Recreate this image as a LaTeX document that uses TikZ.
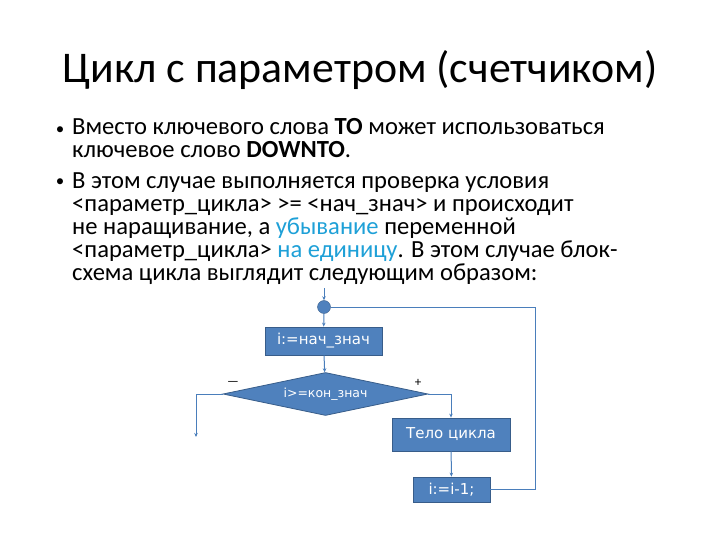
\documentclass[tikz,border=0pt]{standalone}
\usepackage{fontspec}
\setmainfont{Carlito}
\newfontfamily\boxfont{DejaVu Sans}
\usetikzlibrary{arrows.meta,positioning,shapes.geometric}
\definecolor{boxfill}{RGB}{79,129,189}
\definecolor{boxline}{RGB}{56,93,138}
\definecolor{flowline}{RGB}{74,126,187}
\definecolor{accent}{RGB}{30,160,215}
\tikzset{
  slidetitle/.style = {
    font=\fontsize{43.8}{50}\selectfont,
    anchor=center
  },
  slidetext/.style = {
    font=\fontsize{24.6}{23}\selectfont,
    anchor=north west,
    align=left,
    inner sep=0pt
  },
  slidedot/.style = {
    font=\fontsize{17}{18}\selectfont,
    inner sep=0pt
  },
  flowblock/.style = {
    rectangle,
    draw=boxline,
    fill=boxfill,
    line width=0.8pt,
    text=white,
    font=\boxfont\fontsize{15}{16}\selectfont,
    inner sep=0pt
  },
  flowcheck/.style = {
    diamond,
    aspect=4.77,
    draw=boxline,
    fill=boxfill,
    line width=0.8pt,
    text=white,
    font=\boxfont\fontsize{12.5}{14}\selectfont,
    inner sep=0pt,
    minimum width=205,
    minimum height=43
  },
  flowjoin/.style = {
    circle,
    draw=boxline,
    fill=boxfill,
    minimum size=13,
    inner sep=0pt
  },
  flowarrow/.style = {
    -{Stealth[length=4pt,width=3.5pt]},
    draw=flowline,
    line width=1pt
  },
  flowpath/.style = {
    draw=flowline,
    line width=1pt
  }
}

\begin{document}
\begin{tikzpicture}[x=1pt,y=-1pt]
    \useasboundingbox (0,0) rectangle (720,540);
    \node[slidetitle] (title) at (360,70) {Цикл с параметром (счетчиком)};
    \node[slidedot] (dot1) at (60,131) {•};
    \node[slidetext] (item1) at (72,118) {Вместо ключевого слова \textbf{TO} может использоваться\\ключевое слово \textbf{DOWNTO}.};
    \node[slidedot] (dot2) at (60,183) {•};
    \node[slidetext] (item2) at (72,172.5) {В этом случае выполняется проверка условия\\<параметр\_цикла> >= <нач\_знач> и происходит\\не наращивание, а \textcolor{accent}{убывание} переменной\\<параметр\_цикла> \textcolor{accent}{на единицу}. В этом случае блок-\\схема цикла выглядит следующим образом:};

    % block scheme
    \coordinate (entry) at (324,288);
    \node[flowjoin] (join) at (324,307) {};
    \node[flowblock, minimum width=117, minimum height=28] (init) at (323.5,341) {i:=нач\_знач};
    \node[flowcheck] (check) at (325.5,394) {\raisebox{-3pt}{i>=кон\_знач}};
    \node[flowblock, minimum width=118, minimum height=33] (body) at (451,434.5) {Тело цикла};
    \node[flowblock, minimum width=77, minimum height=25] (dec) at (451.5,489.5) {i:=i-1;};
    \coordinate (exit) at (196,437);
    \node (minus) at (233,383) {\fontsize{13}{14}\selectfont ---};
    \node (plus) at (418,383) {\fontsize{13}{14}\selectfont +};

    \draw[flowarrow] (entry) -- (join);
    \draw[flowarrow] (join) -- (init);
    \draw[flowarrow] (init) -- (check);
    \draw[flowarrow] (check.west) -| (exit);
    \draw[flowarrow] (check.east) -| (body.north);
    \draw[flowarrow] (body) -- (dec);
    \draw[flowpath] (dec.east) -| ++(45,0) |- (join.east);
  \end{tikzpicture}
\end{document}
